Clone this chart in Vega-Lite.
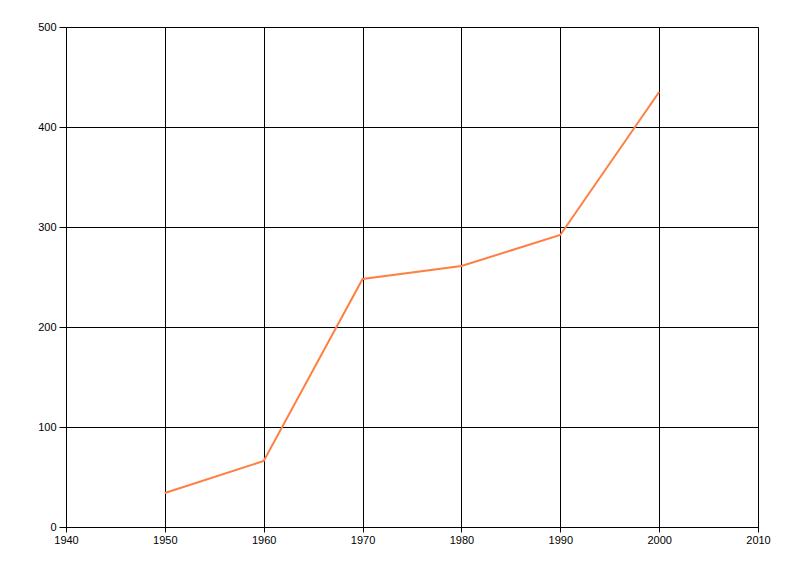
{
  "$schema": "https://vega.github.io/schema/vega-lite/v6.json",
  "width": 692,
  "height": 500,
  "autosize": {"type": "none"},
  "padding": {"left": 66, "top": 27, "right": 42, "bottom": 49},
  "background": "white",
  "config": {
    "view": {"stroke": null},
    "axis": {
      "labelFont": "Liberation Sans",
      "labelFontSize": 11,
      "labelColor": "#000000",
      "domainColor": "#000000",
      "domainWidth": 1,
      "tickColor": "#000000",
      "tickWidth": 1,
      "gridColor": "#000000",
      "gridOpacity": 1,
      "gridWidth": 1,
      "title": null
    }
  },
  "data": {
    "values": [
      {"year": 1950, "value": 34},
      {"year": 1960, "value": 66},
      {"year": 1970, "value": 248},
      {"year": 1980, "value": 261},
      {"year": 1990, "value": 292},
      {"year": 2000, "value": 435}
    ]
  },
  "mark": {"type": "line", "color": "#FF7F40", "strokeWidth": 2},
  "encoding": {
    "x": {
      "field": "year",
      "type": "quantitative",
      "scale": {"domain": [1940, 2010], "nice": false, "zero": false},
      "axis": {"values": [1940, 1950, 1960, 1970, 1980, 1990, 2000, 2010], "format": "d", "tickSize": 5, "labelPadding": 2, "grid": true, "labelFlush": false, "labelOverlap": false}
    },
    "y": {
      "field": "value",
      "type": "quantitative",
      "scale": {"domain": [0, 500], "nice": false},
      "axis": {"values": [0, 100, 200, 300, 400, 500], "tickSize": 7, "labelPadding": 3, "grid": true, "labelFlush": false, "labelOverlap": false}
    }
  }
}
